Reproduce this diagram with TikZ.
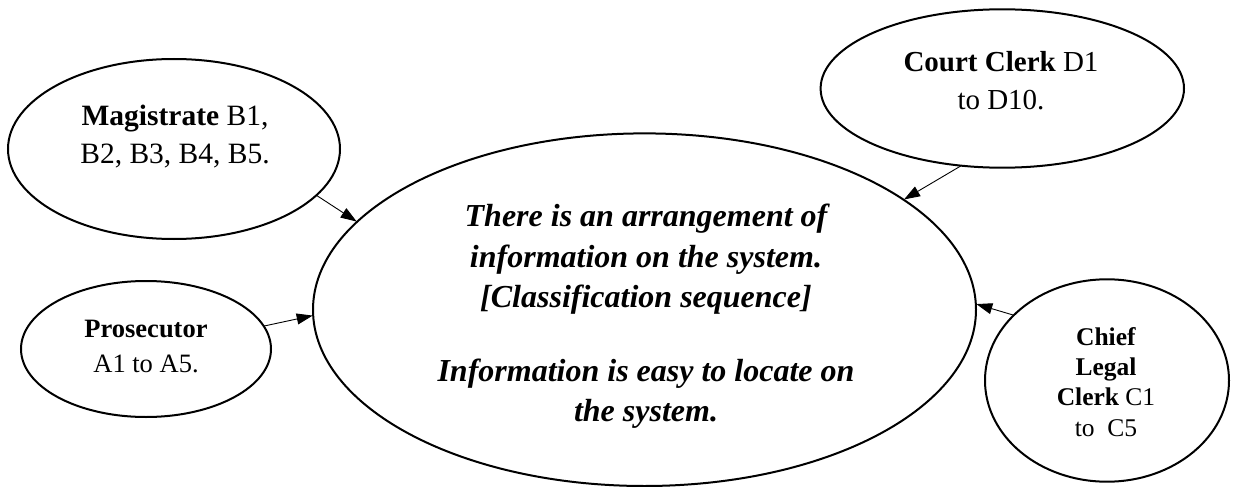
\documentclass[tikz,border=0pt]{standalone}
\usepackage{fontspec}
\setmainfont{Liberation Serif}
\usetikzlibrary{shapes.geometric,arrows.meta}

\begin{document}
\begin{tikzpicture}[x=1pt,y=-1pt,
  bubble/.style={ellipse,draw,line width=2pt,inner sep=0pt,outer sep=0pt},
  txt/.style={align=center,anchor=base,inner sep=0pt},
  link/.style={-{Triangle[length=16pt,width=11pt]},line width=0.9pt,shorten >=0.5pt}
]
\useasboundingbox (0,0) rectangle (1235,487);

% ellipses
\node[bubble,minimum width=663pt,minimum height=352.6pt] (big) at (644.5,309.7) {};
\node[bubble,minimum width=332pt,minimum height=180pt] (mag) at (174,149) {};
\node[bubble,minimum width=250pt,minimum height=136pt] (pros) at (146,349) {};
\node[bubble,minimum width=363.4pt,minimum height=158.4pt] (court) at (1002.3,88.5) {};
\node[bubble,minimum width=244pt,minimum height=202.4pt] (chief) at (1107,380.5) {};

% texts (anchored at the baseline of their last line)
\node[txt,font=\fontsize{32}{40.5}\selectfont\bfseries\itshape] (bigtxt) at (646,421.7)
  {There is an arrangement of\\information on the system.\\{}[Classification sequence]\\[33pt]Information is easy to locate on\\the system.};
\node[txt,font=\fontsize{29.5}{38}\selectfont] (magtxt) at (175,163)
  {\textbf{Magistrate} B1,\\B2, B3, B4, B5.};
\node[txt,font=\fontsize{26.5}{35}\selectfont] (prostxt) at (146,372)
  {\textbf{Prosecutor}\\A1 to A5.};
\node[txt,font=\fontsize{29}{38}\selectfont] (courttxt) at (1001,110)
  {\textbf{Court Clerk} D1\\to D10.};
\node[txt,font=\fontsize{25.5}{30.3}\selectfont] (chieftxt) at (1106,436)
  {\textbf{Chief}\\\textbf{Legal}\\\textbf{Clerk} C1\\to\ \ C5};

% connectors
\draw[link] (mag.-18) -- (big.163);
\draw[link] (pros.11) -- (big.181);
\draw[link] (court.-118) -- (big.23);
\draw[link] (chief.145) -- (big.1);
\end{tikzpicture}
\end{document}
